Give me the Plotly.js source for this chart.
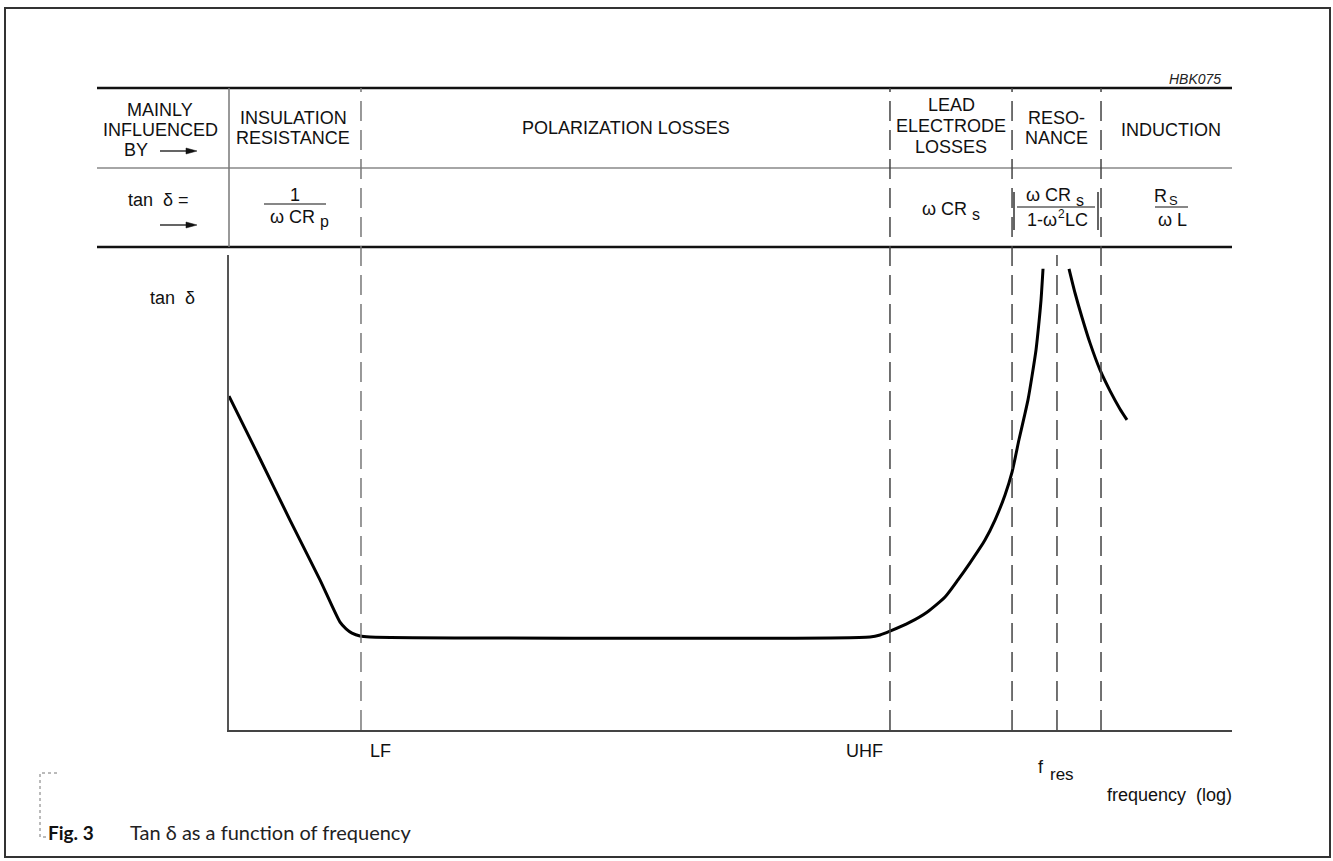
<!DOCTYPE html>
<html><head><meta charset="utf-8">
<script src="https://cdn.plot.ly/plotly-3.0.1.min.js"></script>
<style>html,body{margin:0;padding:0;background:#fff}#chart{width:1333px;height:861px}</style>
</head><body><div id="chart"></div>
<script>
// ---- data (frequency: log scale, arbitrary units 0-100; tan delta: arbitrary units 0-100) ----
const freqLowBranch = [0, 3.09, 6.08, 9.07, 11.07, 11.67, 12.26, 13.06, 14.06, 63.91, 64.91, 65.90, 67.90, 69.59, 71.39, 72.68, 73.88, 75.37, 76.37, 77.37, 78.07, 78.76, 79.26, 79.66, 80.06, 80.46, 80.76, 80.96, 81.16];
const tanLowBranch  = [70.3, 57.1, 44.2, 31.6, 22.7, 21.3, 20.4, 19.8, 19.6, 19.6, 20.0, 20.8, 22.7, 24.8, 28.0, 31.6, 35.2, 40.0, 44.2, 49.5, 54.3, 61.1, 65.7, 69.5, 74.5, 80.0, 85.9, 90.5, 97.1];
const freqHighBranch = [83.75, 84.35, 85.04, 85.84, 86.84, 87.84, 88.83, 89.53];
const tanHighBranch  = [97.1, 92.0, 86.9, 81.5, 75.8, 71.4, 67.6, 65.3];
const regionBounds = [13.16, 65.90, 78.07, 86.94];   // LF, UHF, start / end of resonance band
const resonanceFreq = 82.55;                          // f res
const freqLabels = ['LF', 'UHF'];

// ---- pixel helpers for layout decoration ----
const L = 229, R = 1232, T = 255, B = 730;
const px = v => (v - L) / (R - L);
const py = v => (B - v) / (B - T);
const FONT = 'Liberation Sans, Arial, Helvetica, sans-serif';
const FS = 18;

const annotations = [];
function txt(text, x, y, o) {
  o = o || {};
  const f = Object.assign({family: FONT, size: FS, color: '#111'}, o.font || {});
  const a = Object.assign({
    text: text, xref: 'paper', yref: 'paper', x: px(x), y: py(y),
    xanchor: 'center', yanchor: 'middle', showarrow: false, borderpad: 0, borderwidth: 0
  }, o);
  a.font = f;
  annotations.push(a);
}
const shapes = [];
function pline(x0, y0, x1, y1, color, width, dash) {
  shapes.push({type: 'line', xref: 'paper', yref: 'paper', x0: px(x0), y0: py(y0), x1: px(x1), y1: py(y1),
    line: {color: color, width: width, dash: dash || 'solid'}});
}
function arrow(x0, x1, y) {
  pline(x0, y, x1 - 8, y, '#111', 1.3);
  shapes.push({type: 'path', xref: 'paper', yref: 'paper',
    path: 'M' + px(x1) + ',' + py(y) + ' L' + px(x1 - 11) + ',' + py(y - 3) + ' L' + px(x1 - 11) + ',' + py(y + 3) + ' Z',
    fillcolor: '#111', line: {color: '#111', width: 0.5}});
}

// outer frame
shapes.push({type: 'rect', xref: 'paper', yref: 'paper', x0: px(5), y0: py(857), x1: px(1330), y1: py(8),
  line: {color: '#333', width: 2}});
// table lines
pline(97, 88, 1232, 88, '#111', 2.5);
pline(97, 168, 1232, 168, '#888', 1.5);
pline(97, 247, 1232, 247, '#111', 2.5);
pline(229, 88, 229, 247, '#777', 1.5);
// region boundaries (dashed, through table and plot)
regionBounds.forEach((f, i) => {
  shapes.push({type: 'line', xref: 'x', yref: 'paper', x0: f, x1: f, y0: 0, y1: py(88),
    line: {color: i === 0 ? '#777' : '#444', width: 1.5, dash: '20px,9px'}});
});
shapes.push({type: 'line', xref: 'x', yref: 'paper', x0: resonanceFreq, x1: resonanceFreq, y0: 0, y1: 1,
  line: {color: '#444', width: 1.5, dash: '20px,9px'}});

// header row
txt('HBK075', 1221, 79, {xanchor: 'right', font: {size: 14, color: '#222', style: 'italic'}});
txt('MAINLY', 160, 110);
txt('INFLUENCED', 160, 130);
txt('BY', 136, 150);
arrow(160, 197, 151);
txt('INSULATION', 293, 118);
txt('RESISTANCE', 293, 138);
txt('POLARIZATION LOSSES', 626, 128);
txt('LEAD', 951, 105);
txt('ELECTRODE', 951, 126);
txt('LOSSES', 951, 147);
txt('RESO-', 1056, 118);
txt('NANCE', 1056, 138);
txt('INDUCTION', 1171, 130);

// formula row
txt('tan  δ =', 158, 200);
arrow(160, 197, 225);
// 1 / (ω C Rp)
txt('1', 295, 195);
pline(264, 204, 326, 204, '#111', 1.2);
txt('ω CR', 315, 217, {xanchor: 'right'});
txt('p', 320, 222, {xanchor: 'left', font: {size: 16}});
// ω C Rs
txt('ω CR', 967, 209, {xanchor: 'right'});
txt('s', 972, 214, {xanchor: 'left', font: {size: 16}});
// | ω C Rs / (1 - ω²LC) |
txt('ω CR', 1071, 195, {xanchor: 'right'});
txt('s', 1076, 200, {xanchor: 'left', font: {size: 16}});
pline(1017, 207, 1095, 207, '#111', 1.2);
txt('1-ω', 1057, 220, {xanchor: 'right'});
txt('2', 1058, 214, {xanchor: 'left', font: {size: 12}});
txt('LC', 1065, 220, {xanchor: 'left'});
pline(1014, 192, 1014, 230, '#111', 1.3);
pline(1098, 192, 1098, 230, '#111', 1.3);
// Rs / ω L
txt('R', 1167, 196, {xanchor: 'right'});
txt('S', 1169, 201, {xanchor: 'left', font: {size: 13}});
pline(1155, 207, 1188, 207, '#111', 1.2);
txt('ω L', 1172, 220);

// axis labels
txt('tan  δ', 172, 298);
annotations.push({text: freqLabels[0], xref: 'x', yref: 'paper', x: regionBounds[0], y: py(751), xanchor: 'left', xshift: 7,
  yanchor: 'middle', showarrow: false, font: {family: FONT, size: FS, color: '#111'}});
annotations.push({text: freqLabels[1], xref: 'x', yref: 'paper', x: regionBounds[1], y: py(751), xanchor: 'right', xshift: -5,
  yanchor: 'middle', showarrow: false, font: {family: FONT, size: FS, color: '#111'}});
annotations.push({text: 'f', xref: 'x', yref: 'paper', x: resonanceFreq, y: py(767), xanchor: 'right', xshift: -11,
  yanchor: 'middle', showarrow: false, font: {family: FONT, size: FS, color: '#111'}});
annotations.push({text: 'res', xref: 'x', yref: 'paper', x: resonanceFreq, y: py(774), xanchor: 'left', xshift: -9,
  yanchor: 'middle', showarrow: false, font: {family: FONT, size: 17, color: '#111'}});
txt('frequency  (log)', 1232, 795, {xanchor: 'right'});

// caption + dotted bracket
shapes.push({type: 'path', xref: 'paper', yref: 'paper',
  path: 'M' + px(57) + ',' + py(773) + ' L' + px(40) + ',' + py(773) + ' L' + px(40) + ',' + py(837) + ' L' + px(48) + ',' + py(837),
  line: {color: '#777', width: 1, dash: 'dot'}});
txt('Fig. 3', 48, 832, {xanchor: 'left', font: {family: 'Lato, Open Sans, sans-serif', size: 19, color: '#111', weight: 'bold'}});
txt('Tan δ as a function of frequency', 130, 832, {xanchor: 'left', font: {family: 'Lato, Open Sans, sans-serif', size: 20, color: '#222'}});

const traceStyle = {type: 'scatter', mode: 'lines', line: {color: '#000', width: 3, shape: 'spline', smoothing: 0.6},
  hoverinfo: 'skip', showlegend: false};
const data = [
  Object.assign({x: freqLowBranch, y: tanLowBranch}, traceStyle),
  Object.assign({x: freqHighBranch, y: tanHighBranch}, traceStyle)
];

const layout = {
  width: 1333, height: 861,
  margin: {l: L, r: 1333 - R, t: T, b: 861 - B, pad: 0},
  paper_bgcolor: '#fff', plot_bgcolor: '#fff',
  showlegend: false,
  xaxis: {range: [0, 100], showgrid: false, zeroline: false, showticklabels: false, ticks: '',
    showline: true, linecolor: '#444', linewidth: 1.5, fixedrange: true},
  yaxis: {range: [0, 100], showgrid: false, zeroline: false, showticklabels: false, ticks: '',
    showline: true, linecolor: '#555', linewidth: 2, fixedrange: true},
  shapes: shapes,
  annotations: annotations
};
Plotly.newPlot('chart', data, layout, {displayModeBar: false, staticPlot: true});
</script>
</body></html>
